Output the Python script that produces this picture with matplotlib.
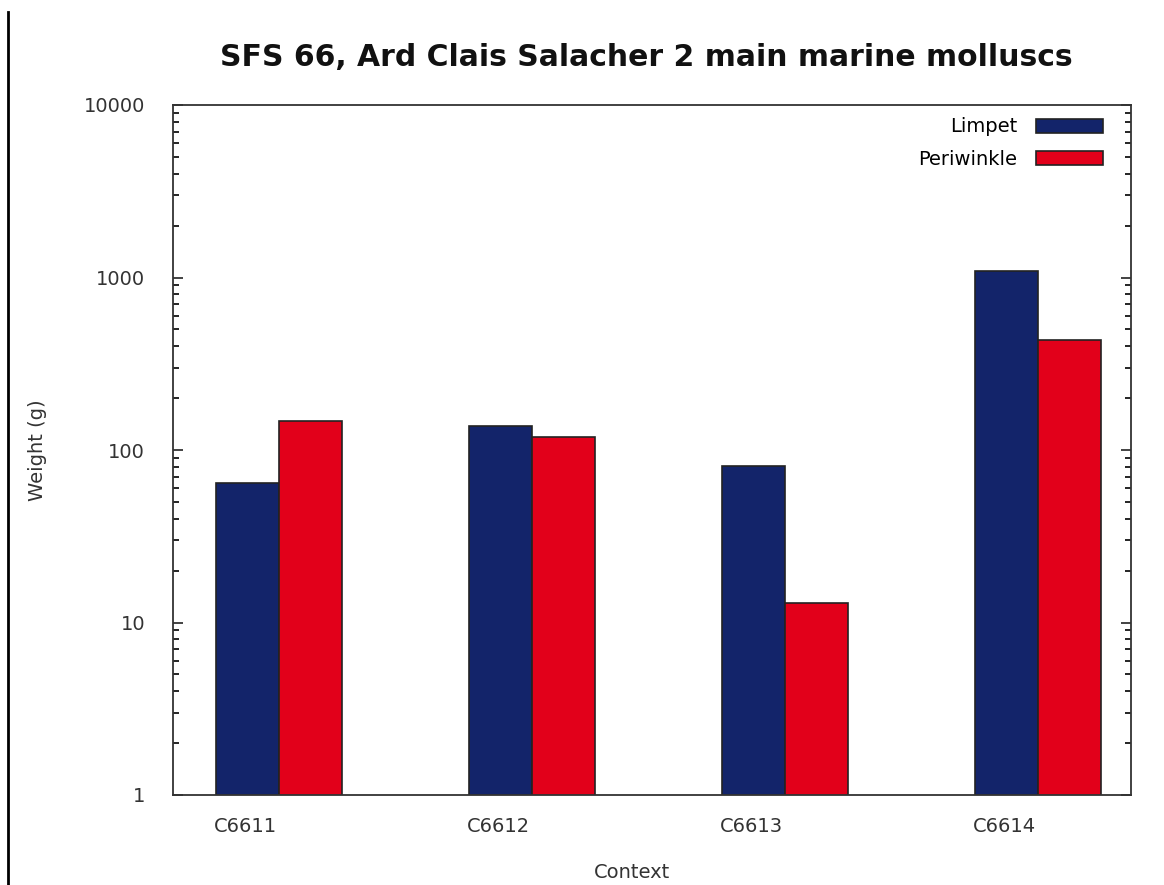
import numpy as np
import matplotlib
matplotlib.use('Agg')
import matplotlib.pyplot as plt
from matplotlib.lines import Line2D
from matplotlib.ticker import LogLocator, NullFormatter, FixedLocator

contexts = ['C6611', 'C6612', 'C6613', 'C6614']
limpet = [64, 138, 81, 1090]
periwinkle = [147, 119, 13, 434]

LIMPET_COL = '#13246a'
PERI_COL = '#e2001a'

plt.rcParams['font.family'] = ['DejaVu Sans']

fig = plt.figure(figsize=(11.64, 8.85), dpi=100)
ax = fig.add_axes([173 / 1164, 1 - 795 / 885, (1131 - 173) / 1164, (795 - 105) / 885])

x = np.arange(len(contexts))
w = 0.25
ax.bar(x - w / 2, limpet, w, color=LIMPET_COL, edgecolor='#222222', linewidth=1.2, label='Limpet')
ax.bar(x + w / 2, periwinkle, w, color=PERI_COL, edgecolor='#222222', linewidth=1.2, label='Periwinkle')

ax.set_yscale('log')
ax.set_ylim(1, 10000)
ax.set_xlim(-0.419, 3.368)

ax.yaxis.set_minor_locator(LogLocator(base=10, subs=np.arange(2, 10), numticks=10))
ax.yaxis.set_minor_formatter(NullFormatter())
ax.set_yticks([1, 10, 100, 1000, 10000])
ax.set_yticklabels(['1', '10', '100', '1000', '10000'])

ax.xaxis.set_major_locator(FixedLocator(x - 0.134))
ax.set_xticklabels(contexts)

ax.tick_params(axis='y', which='major', direction='in', length=7, width=1.2,
               left=True, right=True, labelsize=14, pad=20, colors='#222222', labelcolor='#333333')
ax.tick_params(axis='y', which='minor', direction='in', length=4, width=1.2,
               left=True, right=True)
ax.tick_params(axis='x', which='both', length=0, labelsize=14, pad=16, labelcolor='#333333')

for s in ax.spines.values():
    s.set_linewidth(1.3)
    s.set_color('#333333')

ax.set_xlabel('Context', fontsize=14, color='#333333')
ax.xaxis.set_label_coords(0.479, -0.1116)
ax.xaxis.label.set_va('center')
ax.set_ylabel('Weight (g)', fontsize=14, color='#333333')
ax.yaxis.set_label_coords(-0.141, 0.5)
ax.yaxis.label.set_va('center')

fig.text(0.555, 1 - 57 / 885, 'SFS 66, Ard Clais Salacher 2 main marine molluscs',
         fontsize=21.5, fontweight='bold', ha='center', va='center', color='#111111')

ax.legend(loc='upper right', bbox_to_anchor=(1 - 11 / 958, 1 + 5 / 690),
          frameon=False, markerfirst=False, fontsize=14,
          handlelength=3.4, handleheight=0.75, labelspacing=0.7,
          borderaxespad=0.5, borderpad=0.4, handletextpad=1.0)

fig.add_artist(Line2D([8 / 1164, 8 / 1164], [0, 1 - 12 / 885], color='black', linewidth=2))

fig.savefig('out.png', dpi=100)
